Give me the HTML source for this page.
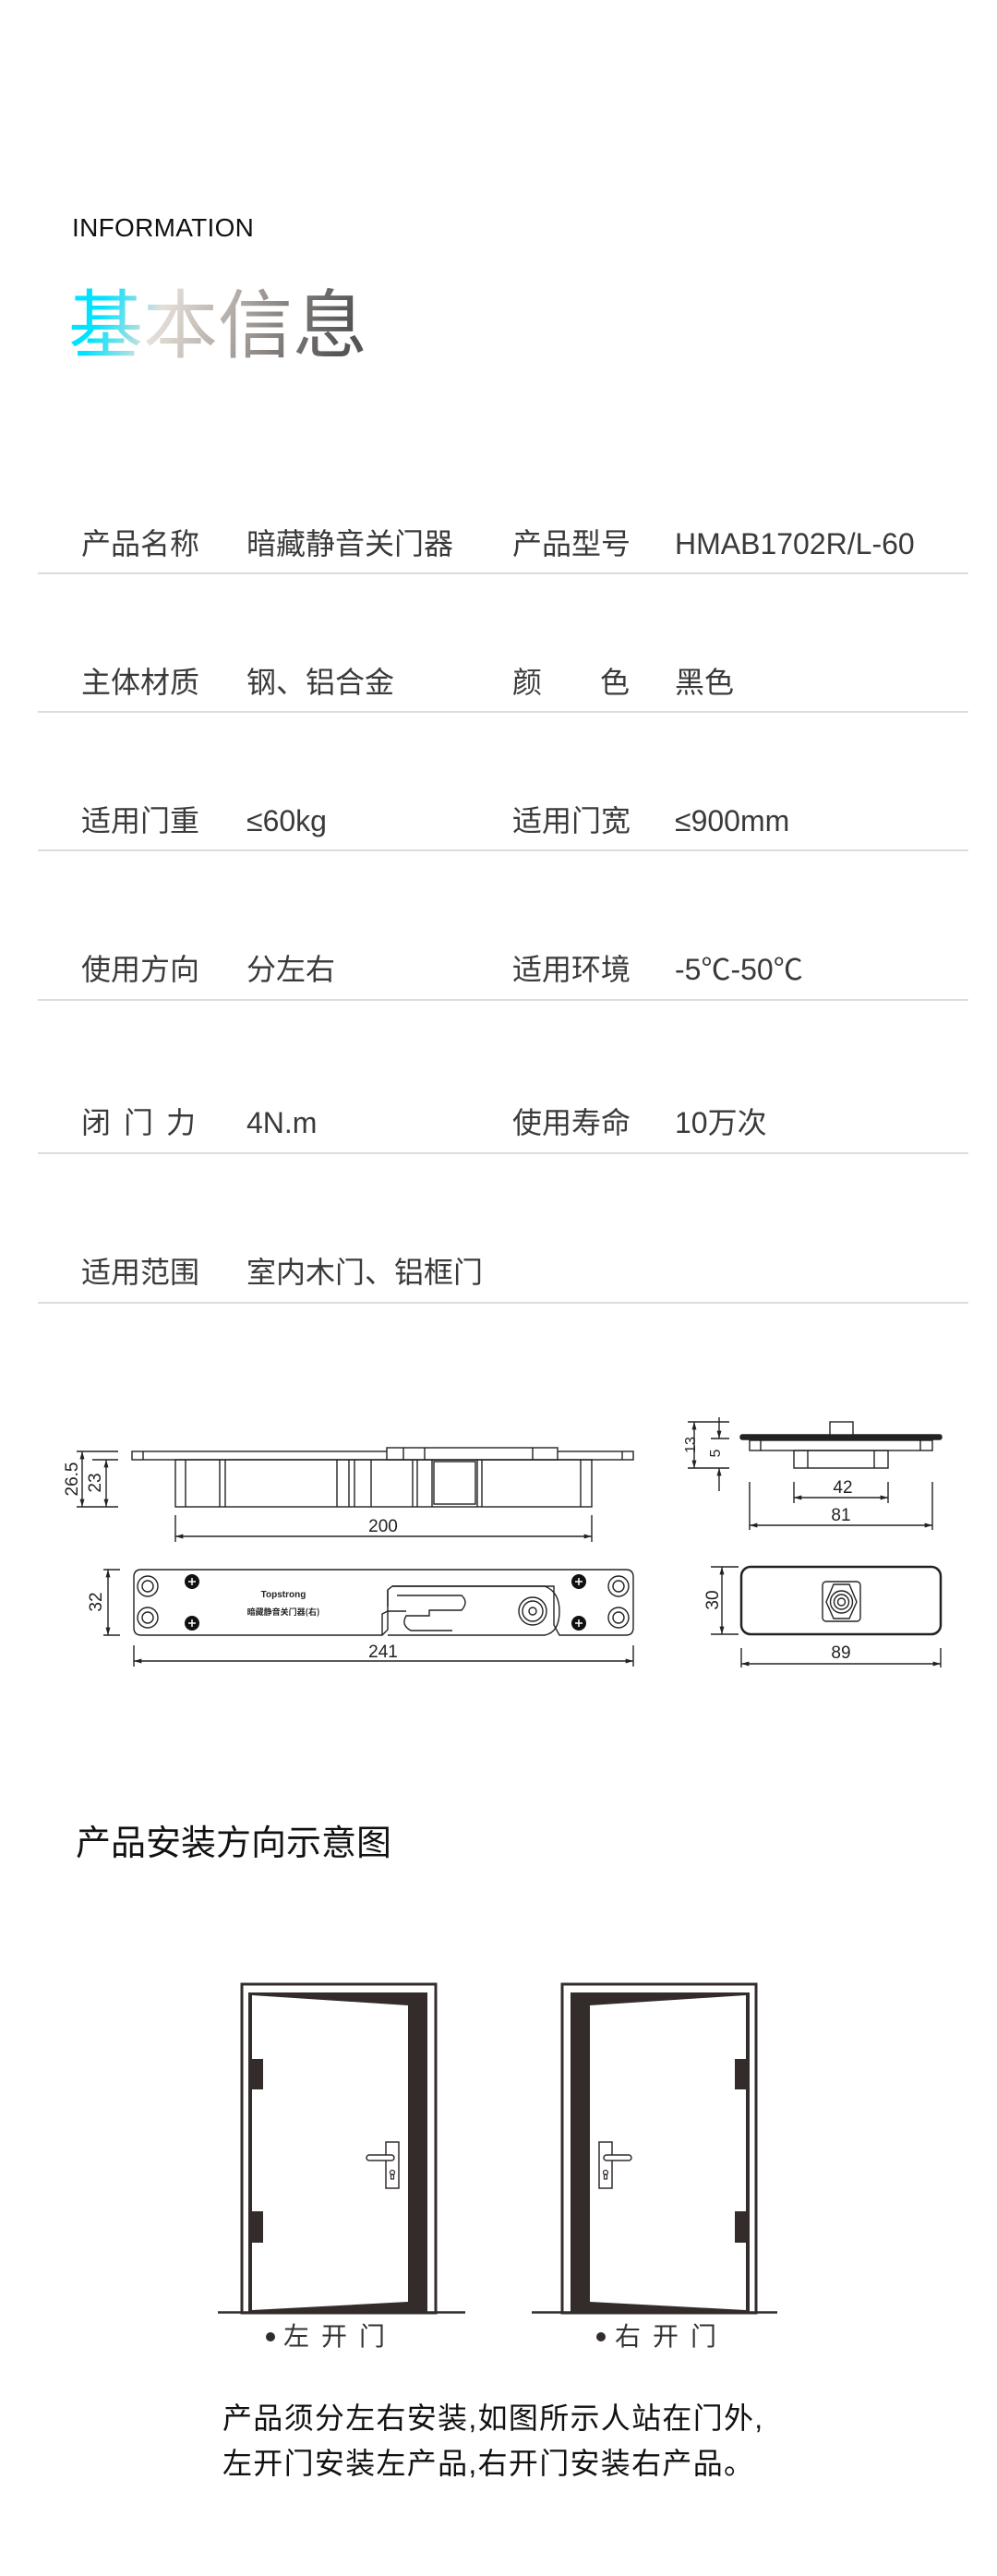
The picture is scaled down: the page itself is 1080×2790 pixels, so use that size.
<!DOCTYPE html>
<html><head><meta charset="utf-8">
<style>
html,body{margin:0;padding:0;background:#fff;}
body{width:1080px;height:2790px;position:relative;overflow:hidden;font-family:"Liberation Sans","Noto Sans CJK SC",sans-serif;}
.a{position:absolute;white-space:nowrap;}
.info{left:78px;top:227px;font-size:28px;color:#111;letter-spacing:0.3px;line-height:40px;}
.big{left:74px;top:292px;font-size:81px;line-height:110px;font-family:"Noto Sans CJK SC",sans-serif;font-weight:400;
background:linear-gradient(110deg,#00e2ff 0%,#00e2ff 14%,#e6dfd8 32%,#b8b0aa 52%,#7d7977 72%,#555 90%);
-webkit-background-clip:text;background-clip:text;color:transparent;}
.t{font-size:32px;line-height:32px;color:#3a3a3a;font-family:"Liberation Sans","Noto Sans CJK SC",sans-serif;}
.line{position:absolute;left:41px;width:1008px;height:2px;background:#dcdcdc;}
.h2{left:82px;top:1972px;font-size:38px;line-height:50px;color:#111;font-family:"Liberation Sans","Noto Sans CJK SC",sans-serif;}
.lbl{font-size:28px;line-height:34px;color:#333;letter-spacing:13px;}
.desc{left:241px;font-size:32px;line-height:40px;color:#111;letter-spacing:1.3px;}
</style></head><body>
<div class="a info">INFORMATION</div>
<div class="a big">基本信息</div>

<div class="a t" style="left:88px;top:573px">产品名称</div>
<div class="a t" style="left:267px;top:573px">暗藏静音关门器</div>
<div class="a t" style="left:555px;top:573px">产品型号</div>
<div class="a t" style="left:731px;top:573px">HMAB1702R/L-60</div>
<div class="line" style="top:620px"></div>

<div class="a t" style="left:88px;top:723px">主体材质</div>
<div class="a t" style="left:267px;top:723px">钢、铝合金</div>
<div class="a t" style="left:555px;top:723px">颜</div>
<div class="a t" style="left:650px;top:723px">色</div>
<div class="a t" style="left:731px;top:723px">黑色</div>
<div class="line" style="top:770px"></div>

<div class="a t" style="left:88px;top:873px">适用门重</div>
<div class="a t" style="left:267px;top:873px">≤60kg</div>
<div class="a t" style="left:555px;top:873px">适用门宽</div>
<div class="a t" style="left:731px;top:873px">≤900mm</div>
<div class="line" style="top:920px"></div>

<div class="a t" style="left:88px;top:1034px">使用方向</div>
<div class="a t" style="left:267px;top:1034px">分左右</div>
<div class="a t" style="left:555px;top:1034px">适用环境</div>
<div class="a t" style="left:731px;top:1034px">-5℃-50℃</div>
<div class="line" style="top:1082px"></div>

<div class="a t" style="left:88px;top:1200px;letter-spacing:14px">闭门力</div>
<div class="a t" style="left:267px;top:1200px">4N.m</div>
<div class="a t" style="left:555px;top:1200px">使用寿命</div>
<div class="a t" style="left:731px;top:1200px">10万次</div>
<div class="line" style="top:1248px"></div>

<div class="a t" style="left:88px;top:1362px">适用范围</div>
<div class="a t" style="left:267px;top:1362px">室内木门、铝框门</div>
<div class="line" style="top:1410px"></div>

<svg class="a" style="left:0;top:0" width="1080" height="2790" xmlns="http://www.w3.org/2000/svg">
<defs>
<marker id="ar" viewBox="0 0 10 6" refX="10" refY="3" markerWidth="9" markerHeight="5" orient="auto-start-reverse" markerUnits="userSpaceOnUse"><path d="M0,0 L10,3 L0,6 z" fill="#222"/></marker>
</defs>
<g fill="none" stroke="#222" stroke-width="1.4" font-family="Liberation Sans, sans-serif">
<rect x="143" y="1572" width="543" height="9" fill="#fff"/>
<line x1="155" y1="1572" x2="155" y2="1581"/>
<line x1="674" y1="1572" x2="674" y2="1581"/>
<rect x="419" y="1568" width="185" height="13" fill="#fff"/>
<line x1="437" y1="1568" x2="437" y2="1581"/><line x1="460" y1="1568" x2="460" y2="1581"/>
<line x1="577" y1="1568" x2="577" y2="1581"/>
<rect x="190" y="1581" width="451" height="51"/>
<g>
<line x1="201" y1="1581" x2="201" y2="1632"/><line x1="238" y1="1581" x2="238" y2="1632"/><line x1="244" y1="1581" x2="244" y2="1632"/>
<line x1="365" y1="1581" x2="365" y2="1632"/><line x1="378" y1="1581" x2="378" y2="1632"/><line x1="384" y1="1581" x2="384" y2="1632"/><line x1="402" y1="1581" x2="402" y2="1632"/>
<line x1="447" y1="1581" x2="447" y2="1632"/><line x1="452" y1="1581" x2="452" y2="1632"/><line x1="468" y1="1581" x2="468" y2="1632"/>
<line x1="517" y1="1581" x2="517" y2="1632"/><line x1="522" y1="1581" x2="522" y2="1632"/><line x1="629" y1="1581" x2="629" y2="1632"/>
<rect x="470" y="1583" width="45" height="46"/>
</g>
<line x1="83" y1="1572" x2="128" y2="1572"/><line x1="100" y1="1581" x2="128" y2="1581"/><line x1="83" y1="1632" x2="128" y2="1632"/>
<line x1="89" y1="1572" x2="89" y2="1632" marker-start="url(#ar)" marker-end="url(#ar)"/>
<line x1="115" y1="1581" x2="115" y2="1632" marker-start="url(#ar)" marker-end="url(#ar)"/>
<line x1="190" y1="1641" x2="190" y2="1670"/><line x1="641" y1="1641" x2="641" y2="1670"/>
<line x1="190" y1="1664" x2="641" y2="1664" marker-start="url(#ar)" marker-end="url(#ar)"/>
<path d="M153,1700 H678 Q686,1700 686,1708 V1763 Q686,1771 678,1771 H606 L600,1760 V1718 Q600,1718 425,1718 L420,1722 V1765 L414,1771 H153 Q145,1771 145,1763 V1708 Q145,1700 153,1700 Z"/>
<path d="M414,1771 V1748 L420,1745 H440 M420,1722 V1740 M425,1718 H590 Q606,1724 606,1745 Q606,1768 590,1771 H420"/>
<path d="M430,1728 H500 Q508,1735 500,1744 H465 V1750 H440 Q434,1760 445,1766 H490"/>
<circle cx="160" cy="1718" r="11"/><circle cx="160" cy="1718" r="6"/>
<circle cx="160" cy="1752" r="11"/><circle cx="160" cy="1752" r="6"/>
<circle cx="670" cy="1718" r="11"/><circle cx="670" cy="1718" r="6"/>
<circle cx="670" cy="1752" r="11"/><circle cx="670" cy="1752" r="6"/>
<circle cx="577" cy="1745" r="15"/><circle cx="577" cy="1745" r="11"/><circle cx="577" cy="1745" r="4"/>
<g fill="#111" stroke="none">
<circle cx="208" cy="1713" r="8"/><circle cx="208" cy="1758" r="8"/><circle cx="627" cy="1713" r="8"/><circle cx="627" cy="1758" r="8"/>
</g>
<g stroke="#fff" stroke-width="1.5">
<path d="M204,1713 h8 M208,1709 v8 M204,1758 h8 M208,1754 v8 M623,1713 h8 M627,1709 v8 M623,1758 h8 M627,1754 v8"/>
</g>
<line x1="112" y1="1700" x2="130" y2="1700"/><line x1="112" y1="1771" x2="130" y2="1771"/>
<line x1="117" y1="1700" x2="117" y2="1771" marker-start="url(#ar)" marker-end="url(#ar)"/>
<line x1="145" y1="1782" x2="145" y2="1805"/><line x1="686" y1="1782" x2="686" y2="1805"/>
<line x1="145" y1="1799" x2="686" y2="1799" marker-start="url(#ar)" marker-end="url(#ar)"/>

<rect x="802" y="1554" width="218" height="5" fill="#222" rx="2"/>
<rect x="899" y="1540" width="25" height="14" fill="#fff"/>
<rect x="812" y="1560" width="198" height="11"/>
<line x1="824" y1="1560" x2="824" y2="1571"/><line x1="997" y1="1560" x2="997" y2="1571"/>
<rect x="860" y="1571" width="102" height="19"/>
<line x1="875" y1="1571" x2="875" y2="1590"/><line x1="947" y1="1571" x2="947" y2="1590"/>
<line x1="745" y1="1540" x2="790" y2="1540"/><line x1="745" y1="1590" x2="790" y2="1590"/><line x1="770" y1="1558" x2="790" y2="1558"/>
<line x1="752" y1="1540" x2="752" y2="1590" marker-start="url(#ar)" marker-end="url(#ar)"/>
<line x1="779" y1="1535" x2="779" y2="1558" marker-end="url(#ar)"/>
<line x1="779" y1="1615" x2="779" y2="1590" marker-end="url(#ar)"/>
<line x1="860" y1="1605" x2="860" y2="1628"/><line x1="962" y1="1605" x2="962" y2="1628"/>
<line x1="860" y1="1622" x2="962" y2="1622" marker-start="url(#ar)" marker-end="url(#ar)"/>
<line x1="812" y1="1605" x2="812" y2="1657"/><line x1="1010" y1="1605" x2="1010" y2="1657"/>
<line x1="812" y1="1652" x2="1010" y2="1652" marker-start="url(#ar)" marker-end="url(#ar)"/>
<rect x="803" y="1697" width="216" height="73" rx="10" stroke-width="2.5"/>
<rect x="891" y="1713" width="41" height="43" rx="4"/>
<path d="M903,1716 H920 L928,1735 L920,1753 H903 L895,1735 Z"/>
<circle cx="911.5" cy="1735" r="12"/><circle cx="911.5" cy="1735" r="8"/><circle cx="911.5" cy="1735" r="4"/>
<line x1="770" y1="1697" x2="800" y2="1697"/><line x1="770" y1="1770" x2="800" y2="1770"/>
<line x1="782" y1="1697" x2="782" y2="1770" marker-start="url(#ar)" marker-end="url(#ar)"/>
<line x1="803" y1="1785" x2="803" y2="1806"/><line x1="1019" y1="1785" x2="1019" y2="1806"/>
<line x1="803" y1="1802" x2="1019" y2="1802" marker-start="url(#ar)" marker-end="url(#ar)"/>
</g>
<g fill="#222" font-family="Liberation Sans, sans-serif" font-size="19" text-anchor="middle">
<text x="415" y="1659">200</text>
<text x="415" y="1795">241</text>
<text transform="translate(84,1602) rotate(-90)">26.5</text>
<text transform="translate(109,1606) rotate(-90)">23</text>
<text transform="translate(110,1735) rotate(-90)">32</text>
<text x="913" y="1617">42</text>
<text x="911" y="1647">81</text>
<text x="911" y="1796">89</text>
<text transform="translate(753,1565) rotate(-90)" font-size="16">13</text>
<text transform="translate(780,1574) rotate(-90)" font-size="16">5</text>
<text transform="translate(778,1733) rotate(-90)">30</text>
<text x="307" y="1730" font-size="10" font-weight="bold">Topstrong</text>
<text x="307" y="1749" font-size="9" font-weight="bold" font-family="Noto Sans CJK SC, sans-serif">暗藏静音关门器(右)</text>
</g>

<g id="door">
<rect x="262" y="2149" width="210" height="356" fill="none" stroke="#332c2b" stroke-width="3"/>
<rect x="269" y="2158" width="194" height="346" fill="#332c2b"/>
<polygon points="273,2161 442,2172 442,2493 273,2502" fill="#fff"/>
<rect x="273" y="2230" width="12" height="33" fill="#332c2b"/>
<rect x="273" y="2395" width="12" height="34" fill="#332c2b"/>
<rect x="418" y="2320" width="14" height="50" fill="#fff" stroke="#332c2b" stroke-width="1.5"/>
<rect x="397" y="2334" width="30" height="6" rx="3" fill="#fff" stroke="#332c2b" stroke-width="1.5"/>
<circle cx="425" cy="2353" r="2.5" fill="none" stroke="#332c2b" stroke-width="1.2"/>
<rect x="423.5" y="2355" width="3" height="5" fill="none" stroke="#332c2b" stroke-width="1.2"/>
</g>
<use href="#door" transform="translate(1081,0) scale(-1,1)"/>
<line x1="236" y1="2504.5" x2="504" y2="2504.5" stroke="#332c2b" stroke-width="2.5"/>
<line x1="576" y1="2504.5" x2="842" y2="2504.5" stroke="#332c2b" stroke-width="2.5"/>
<circle cx="293" cy="2531" r="5" fill="#332c2b"/>
<circle cx="651" cy="2531" r="5" fill="#332c2b"/>
</svg>

<div class="a lbl" style="left:307px;top:2514px">左开门</div>
<div class="a lbl" style="left:666px;top:2514px">右开门</div>

<div class="a h2">产品安装方向示意图</div>

<div class="a desc" style="top:2599px">产品须分左右安装,如图所示人站在门外,</div>
<div class="a desc" style="top:2648px">左开门安装左产品,右开门安装右产品。</div>
</body></html>
